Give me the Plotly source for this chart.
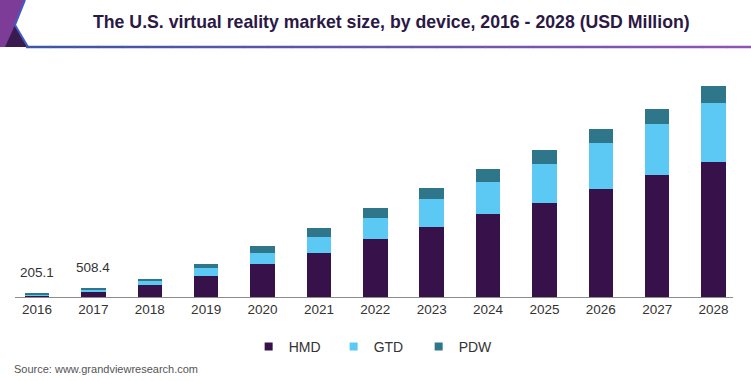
import plotly.graph_objects as go

years = ["2016", "2017", "2018", "2019", "2020", "2021", "2022",
         "2023", "2024", "2025", "2026", "2027", "2028"]
hmd = [105, 327, 700, 1284, 1962, 2640, 3462, 4200, 4962, 5664, 6480, 7302, 8100]
gtd = [57, 109, 290, 438, 702, 960, 1260, 1662, 1938, 2340, 2760, 3102, 3540]
pdw = [43.1, 72.4, 90, 282, 378, 522, 618, 660, 804, 840, 864, 858, 1002]
label_years = ["2016", "2017"]
label_values = [205.1, 508.4]

series = [("HMD", hmd, "#36114a"), ("GTD", gtd, "#5cc9f5"), ("PDW", pdw, "#30768a")]
FONT = "Liberation Sans, Arial, sans-serif"

W, H = 751.0, 381.0
L, R, T, B = 15, 18, 80, 84
pw, ph = W - L - R, H - T - B
def px(x):
    return (x - L) / pw
def py(y):
    return (H - B - y) / ph

fig = go.Figure()
for name, vals, col in series:
    fig.add_trace(go.Bar(x=years, y=vals, name=name, marker=dict(color=col, line=dict(width=0)),
                         showlegend=False))
for name, vals, col in series:
    fig.add_trace(go.Scatter(x=[None], y=[None], mode="markers", name=name,
                             marker=dict(symbol="square", size=8, color=col),
                             hoverinfo="skip"))

annotations = []
for yr, v in zip(label_years, label_values):
    # category axis: annotation position given as the category index
    annotations.append(dict(x=years.index(yr), y=v, xref="x", yref="y", text=str(v),
                            showarrow=False, yanchor="middle", yshift=21,
                            font=dict(family=FONT, size=13.5, color="#333333")))
annotations.append(dict(xref="paper", yref="paper", x=px(391), y=py(22), xanchor="center",
                        yanchor="middle", showarrow=False,
                        text="<b>The U.S. virtual reality market size, by device, 2016 - 2028 (USD Million)</b>",
                        font=dict(family=FONT, size=17.7, color="#2b1845")))
annotations.append(dict(xref="paper", yref="paper", x=px(12), y=py(369), xanchor="left",
                        yanchor="middle", text="Source: www.grandviewresearch.com", showarrow=False,
                        font=dict(family=FONT, size=11, color="#555555")))

shapes = []
def path(pts, close=True):
    s = "M " + " L ".join(f"{px(x):.5f},{py(y):.5f}" for x, y in pts)
    return s + (" Z" if close else "")

shapes.append(dict(type="path", xref="paper", yref="paper",
                   path=path([(0, 0), (25, 0), (15, 25), (28, 47), (0, 47)]),
                   fillcolor="#7d3c98", line=dict(width=0), layer="above"))
shapes.append(dict(type="path", xref="paper", yref="paper",
                   path=path([(15, 25), (28, 47), (5, 47)]),
                   fillcolor="#3b1a4f", line=dict(width=0), layer="above"))
shapes.append(dict(type="path", xref="paper", yref="paper",
                   path=path([(25, 0), (15, 25), (28, 47)], close=False),
                   line=dict(color="#3f5fbf", width=2), layer="above"))

n = 30
c0 = (0x3f, 0x55, 0xa8)
c1 = (0x8e, 0x55, 0xb4)
x0, x1 = 26, 751
for i in range(n):
    t = i / (n - 1)
    col = "#%02x%02x%02x" % tuple(int(a + (b - a) * t) for a, b in zip(c0, c1))
    xa = x0 + (x1 - x0) * i / n
    xb = x0 + (x1 - x0) * (i + 1) / n
    shapes.append(dict(type="line", xref="paper", yref="paper", x0=px(xa), x1=px(xb + 0.5),
                       y0=py(47), y1=py(47), line=dict(color=col, width=2.5), layer="above"))

fig.update_layout(
    width=751, height=381,
    margin=dict(l=L, r=R, t=T, b=B, autoexpand=False),
    paper_bgcolor="white", plot_bgcolor="white",
    barmode="stack", bargap=0.565,
    font=dict(family=FONT, color="#333333"),
    xaxis=dict(type="category", range=[-0.39, 12.344], showline=True, linecolor="#8c8c8c",
               linewidth=1, ticks="", showgrid=False, tickfont=dict(size=13.5, color="#333333")),
    yaxis=dict(range=[0, 13020], showticklabels=False, showline=False, zeroline=False,
               showgrid=False, ticks=""),
    legend=dict(orientation="h", x=0.503, xanchor="center", y=py(347), yanchor="middle",
                traceorder="normal",
                font=dict(family=FONT, size=14, color="#333333"), entrywidth=40,
                entrywidthmode="pixels", bgcolor="rgba(0,0,0,0)"),
    annotations=annotations,
    shapes=shapes,
)

fig.write_html("out.html", config={"displayModeBar": False},
               post_script="document.body.style.margin='0';")
